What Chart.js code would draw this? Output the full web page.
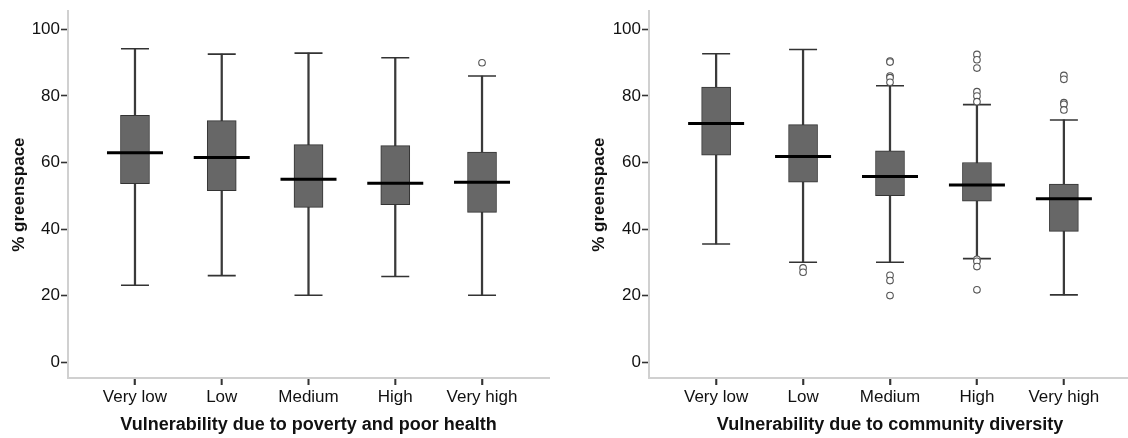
<!DOCTYPE html>
<html>
<head>
<meta charset="utf-8">
<script src="https://cdn.jsdelivr.net/npm/chart.js@4.4.1/dist/chart.umd.min.js"></script>
<style>
   html, body { margin: 0; padding: 0; background: #fff; overflow: hidden; }
   .panel { position: absolute; top: 0; }
</style>
</head>
<body>
<div class="panel" style="left:0px"><canvas id="leftChart" width="560" height="438"></canvas></div>
<div class="panel" style="left:580px"><canvas id="rightChart" width="560" height="438"></canvas></div>
<script>
// categories and tick labels
const categories = ["Very low", "Low", "Medium", "High", "Very high"];
const yTicks = [0, 20, 40, 60, 80, 100];

// poverty and poor health
const povLower = [23.1, 26.0, 20.1, 25.7, 20.1];
const povQ1 = [53.6, 51.5, 46.5, 47.3, 45.0];
const povMedian = [62.9, 61.5, 55.0, 53.8, 54.1];
const povQ3 = [74.2, 72.6, 65.4, 65.1, 63.1];
const povUpper = [94.2, 92.6, 92.9, 91.5, 86.0];
const povOutliers = [[], [], [], [], [90.0]];

// community diversity
const divLower = [35.5, 30.0, 30.0, 31.1, 20.2];
const divQ1 = [62.2, 54.1, 50.0, 48.4, 39.3];
const divMedian = [71.7, 61.8, 55.8, 53.2, 49.1];
const divQ3 = [82.7, 71.4, 63.5, 60.0, 53.5];
const divUpper = [92.7, 94.0, 83.1, 77.4, 72.8];
const divOutliers = [
   [],
   [28.3, 27.0],
   [90.5, 90.2, 86.0, 85.5, 84.1, 26.1, 24.5, 20.0],
   [92.5, 90.9, 88.4, 81.3, 80.0, 78.3, 30.9, 30.3, 28.7, 21.7],
   [86.2, 85.0, 78.0, 77.5, 75.8]
];

const fontFamily = "Arial, 'Liberation Sans', sans-serif";

// small tick marks under the category axis
const xTickMarks = {
   id: "xTickMarks",
   afterDraw(chart) {
      const xScale = chart.scales.x;
      const c = chart.ctx;
      c.save();
      c.strokeStyle = "#333333";
      c.lineWidth = 1.6;
      xScale.ticks.forEach((t) => {
         const px = xScale.getPixelForValue(t.value);
         c.beginPath();
         c.moveTo(px, xScale.top + 1);
         c.lineTo(px, xScale.top + 7);
         c.stroke();
      });
      c.restore();
   },
};

function makeBoxChart(canvasId, lower, q1, median, q3, upper, outliers, xTitle, yWidth, padRight) {
   const whiskerData = categories.map((c, i) => ({ x: i, y: [lower[i], upper[i]] }));
   const boxData = categories.map((c, i) => ({ x: i, y: [q1[i], q3[i]] }));
   const capData = [];
   categories.forEach((c, i) => {
      capData.push({ x: i, y: lower[i] });
      capData.push({ x: i, y: upper[i] });
   });
   const medianData = categories.map((c, i) => ({ x: i, y: median[i] }));
   const outlierData = [];
   outliers.forEach((list, i) => {
      list.forEach((v) => outlierData.push({ x: i, y: v }));
   });

   const ctx = document.getElementById(canvasId).getContext("2d");
   new Chart(ctx, {
      type: "bar",
      plugins: [xTickMarks],
      data: {
         datasets: [
            {
               type: "bar",
               data: whiskerData,
               backgroundColor: "#3a3a3a",
               barThickness: 1.6,
               grouped: false,
               order: 5,
            },
            {
               type: "bar",
               data: boxData,
               backgroundColor: "#676767",
               borderColor: "#333333",
               borderWidth: 1,
               borderSkipped: false,
               barThickness: 29,
               grouped: false,
               order: 4,
            },
            {
               type: "scatter",
               data: capData,
               pointStyle: "line",
               radius: 14,
               borderWidth: 1.6,
               borderColor: "#333333",
               order: 3,
            },
            {
               type: "scatter",
               data: outlierData,
               pointStyle: "circle",
               radius: 3.3,
               borderWidth: 1.1,
               borderColor: "#555555",
               backgroundColor: "#ffffff",
               order: 2,
            },
            {
               type: "scatter",
               data: medianData,
               pointStyle: "line",
               radius: 28,
               borderWidth: 3,
               borderColor: "#000000",
               order: 1,
            },
         ],
      },
      options: {
         responsive: false,
         animation: false,
         layout: { autoPadding: false, padding: { top: 4, right: padRight, left: 0, bottom: 0 } },
         plugins: { legend: { display: false }, tooltip: { enabled: false } },
         scales: {
            x: {
               type: "linear",
               offset: false,
               min: -0.772,
               max: 4.772,
               afterBuildTicks: (scale) => {
                  scale.ticks = categories.map((c, i) => ({ value: i }));
               },
               afterFit: (scale) => {
                  scale.height = 60;
               },
               border: { color: "#d0d0d0", width: 2 },
               grid: {
                  offset: false,
                  drawOnChartArea: false,
                  drawTicks: true,
                  tickLength: 7,
                  tickColor: "#333333",
                  tickWidth: 1.6,
               },
               ticks: {
                  autoSkip: false,
                  maxRotation: 0,
                  padding: 2,
                  color: "#111111",
                  font: { family: fontFamily, size: 17 },
                  callback: (value) => categories[value],
               },
               title: {
                  display: true,
                  text: xTitle,
                  color: "#111111",
                  padding: { top: 0, bottom: 2 },
                  font: { family: fontFamily, size: 18, weight: "bold" },
               },
            },
            y: {
               type: "linear",
               min: -4.8,
               max: 105.5,
               afterBuildTicks: (scale) => {
                  scale.ticks = yTicks.map((v) => ({ value: v }));
               },
               afterFit: (scale) => {
                  scale.width = yWidth;
               },
               border: { color: "#d0d0d0", width: 2 },
               grid: {
                  drawOnChartArea: false,
                  drawTicks: true,
                  tickLength: 7,
                  tickColor: "#333333",
                  tickWidth: 1.6,
               },
               ticks: {
                  padding: 1,
                  color: "#111111",
                  font: { family: fontFamily, size: 17 },
               },
               title: {
                  display: true,
                  text: "% greenspace",
                  color: "#111111",
                  padding: { top: 9, bottom: 0 },
                  font: { family: fontFamily, size: 17, weight: "bold" },
               },
            },
         },
      },
   });
}

makeBoxChart("leftChart", povLower, povQ1, povMedian, povQ3, povUpper, povOutliers,
   "Vulnerability due to poverty and poor health", 68, 11);
makeBoxChart("rightChart", divLower, divQ1, divMedian, divQ3, divUpper, divOutliers,
   "Vulnerability due to community diversity", 69, 9);
</script>
</body>
</html>
